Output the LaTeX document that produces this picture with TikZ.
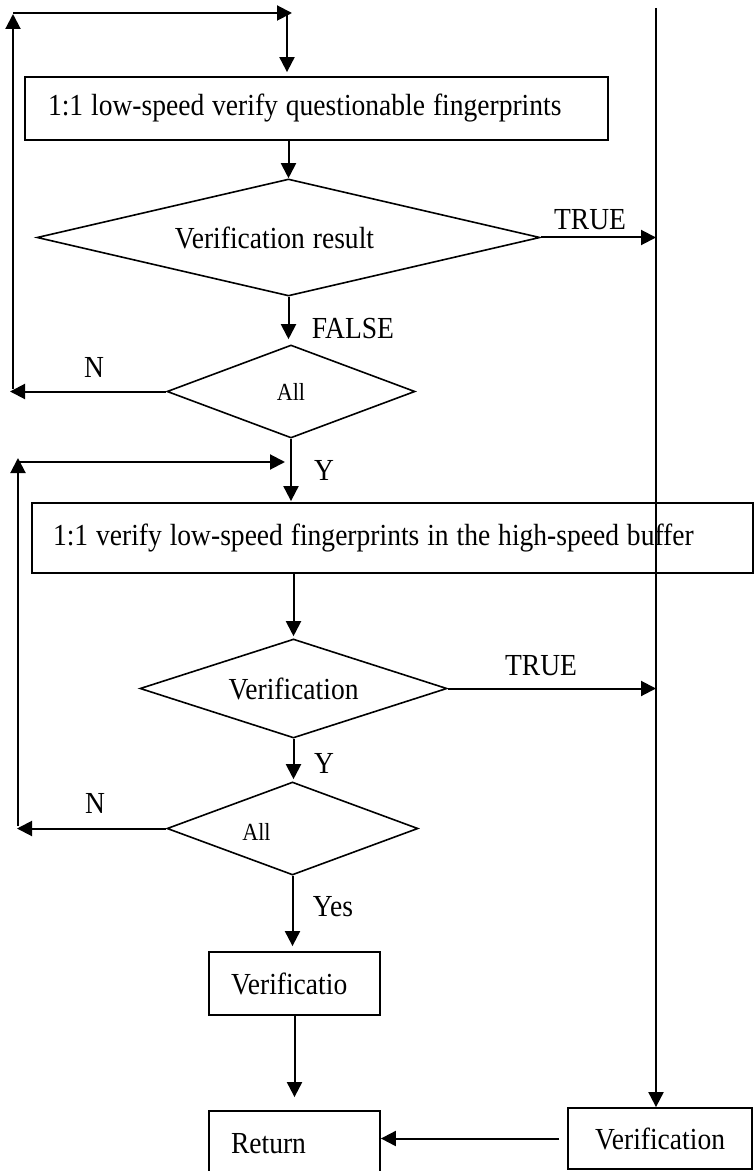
\documentclass[tikz,border=0pt]{standalone}
\usepackage{fontspec}
\setmainfont[FakeStretch=0.9,WordSpace=1.15]{Liberation Serif}
\usetikzlibrary{shapes.geometric,arrows.meta}
\begin{document}
\begin{tikzpicture}[x=0.5pt,y=-0.5pt,
  arr/.style={line width=1pt,-{Triangle[length=7.5pt,width=7.5pt]}},
  txt/.style={font=\fontsize{15.3}{18}\selectfont},
  small/.style={font=\fontsize{12.3}{14}\selectfont},
  wbox/.style={draw,rectangle,line width=0.9pt,inner ysep=0pt,txt},
  dia/.style={draw,diamond,line width=0.8pt,inner sep=0pt,txt},
  lbl/.style={inner sep=0pt,txt}]
\useasboundingbox (0,0) rectangle (754,1171);

% boxes
\node[wbox,minimum width=291.5pt,minimum height=31.5pt,text width=268.5pt,inner xsep=11.5pt,align=left] (box1) at (316.5,108.5) {\spaceskip=0pt\xspaceskip=0pt 1:1 low-speed verify questionable fingerprints};
\node[wbox,minimum width=360.5pt,minimum height=35pt,text width=339.5pt,inner xsep=10.5pt,align=left] (box2) at (392.5,538) {\spaceskip=0pt\xspaceskip=0pt 1:1 verify low-speed fingerprints in the high-speed buffer};
\node[wbox,minimum width=85.5pt,minimum height=31.5pt,text width=63.5pt,inner xsep=11pt,align=left] (box3) at (294.5,983.5) {Verificatio};
\node[wbox,minimum width=85.5pt,minimum height=33pt,text width=63.5pt,inner xsep=11pt,align=left] (box4) at (294.5,1144) {Return};
\node[wbox,minimum width=92pt,minimum height=30.5pt] (box5) at (660,1138.5) {Verification};

% diamonds
\node[dia,minimum width=251.5pt,minimum height=58.5pt,aspect=4.3] (d1) at (288.5,237.5) {\hspace*{-14pt}Verification result};
\node[dia,minimum width=124pt,minimum height=46.5pt,aspect=2.67,small] (d2) at (291,391.5) {All};
\node[dia,minimum width=153.5pt,minimum height=49.5pt,aspect=3.1] (d3) at (293.5,688.5) {Verification};
\node[dia,minimum width=125.5pt,minimum height=46.5pt,aspect=2.7,label={[small,inner sep=0pt,xshift=-18pt,yshift=-1.5pt]center:All}] (d4) at (292.5,828.5) {};

% helper coordinates
\coordinate (rtop) at (656,8);
\coordinate (lp1) at (10,0);
\coordinate (l1b) at (13,389);
\coordinate (l1t) at (13,14);
\coordinate (h1a) at (13,13);
\coordinate (h1b) at (292,13);
\coordinate (j1) at (287,13);
\coordinate (lp2) at (17,0);
\coordinate (l2b) at (18,826);
\coordinate (l2t) at (18,458);
\coordinate (h2a) at (19,462);
\coordinate (h2b) at (285,462);

% main flow
\draw[arr,shorten >=2pt] (j1) -- (j1 |- box1.north);
\draw[arr] (box1.south -| d1.north) -- (d1.north);
\draw[arr,shorten >=2.5pt] (d1.south) -- (d1.south |- d2.north);
\draw[arr,shorten >=0.5pt] (d2.south) -- (d2.south |- box2.north);
\draw[arr,shorten >=1pt] (box2.south -| d3.north) -- (d3.north);
\draw[arr,shorten >=1pt] (d3.south) -- (d3.south |- d4.north);
\draw[arr,shorten >=2.5pt] (d4.south) -- (d4.south |- box3.north);
\draw[arr,shorten >=6.5pt] (box3.south) -- (box4.north);

% TRUE branches and right line
\draw[arr] (d1.east) -- (d1.east -| rtop);
\draw[arr] (d3.east) -- (d3.east -| rtop);
\draw[arr] (rtop) -- (rtop |- box5.north);
\draw[arr,shorten <=4pt] (box5.west) -- (box5.west -| box4.east);

% loop 1
\draw[arr] (d2.west) -- (d2.west -| lp1);
\draw[arr] (l1b) -- (l1t);
\draw[arr] (h1a) -- (h1b);

% loop 2
\draw[arr] (d4.west) -- (d4.west -| lp2);
\draw[arr] (l2b) -- (l2t);
\draw[arr] (h2a) -- (h2b);

% labels
\node[lbl] (t1) at (590,220) {TRUE};
\node[lbl] (t2) at (541,666) {TRUE};
\node[lbl] (f1) at (353,329) {FALSE};
\node[lbl] (n1) at (94,367) {N};
\node[lbl] (y1) at (324,470) {Y};
\node[lbl] (y2) at (324,763) {Y};
\node[lbl] (n2) at (95,803) {N};
\node[lbl] (yes) at (333,907) {Yes};
\end{tikzpicture}
\end{document}
